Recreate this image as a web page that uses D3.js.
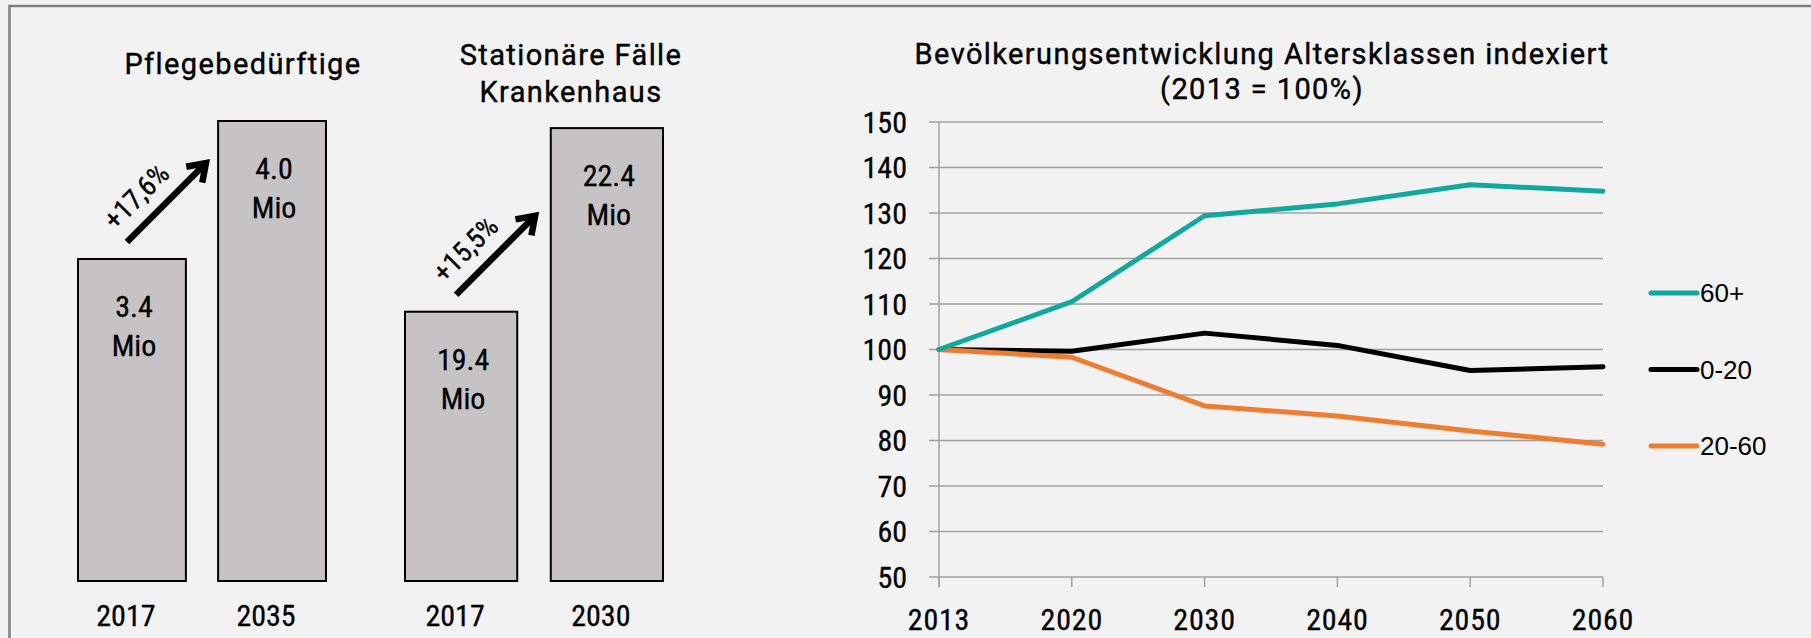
<!DOCTYPE html>
<html>
<head>
<meta charset="utf-8">
<script src="https://cdn.jsdelivr.net/npm/d3@7"></script>
<style>
  body { margin: 0; background: #f2f2f2; }
  svg { display: block; }
  .cond { font-family: "Roboto Condensed", "Liberation Sans", sans-serif; font-weight: 400; fill: #000; stroke: #000; stroke-width: 0.3px; }
  .word { font-family: Roboto, "Liberation Sans", sans-serif; font-weight: 400; font-size: 29px; letter-spacing: 1.4px; fill: #000; stroke: #000; stroke-width: 0.4px; }
  .legend text { font-family: "Liberation Sans", Arial, sans-serif; font-size: 26px; fill: #000; }
</style>
</head>
<body>
<svg id="chart" width="1811" height="638"></svg>
<script>
/**
 * DATA
 * */
const careYears = ["2017", "2035"],
    careValues = [3.4, 4.0],
    careChange = "+17,6%";

const hospYears = ["2017", "2030"],
    hospValues = [19.4, 22.4],
    hospChange = "+15,5%";

const popYears = ["2013", "2020", "2030", "2040", "2050", "2060"],
    popTicks = [50, 60, 70, 80, 90, 100, 110, 120, 130, 140, 150];

const seriesNames = ["60+", "0-20", "20-60"],
    senior = [100, 110.5, 129.4, 132.0, 136.2, 134.8],
    youth = [100, 99.6, 103.6, 100.9, 95.4, 96.2],
    adult = [100, 98.3, 87.6, 85.4, 82.1, 79.2];

const colors = { "60+": "#13a89e", "0-20": "#000000", "20-60": "#ed7d31" };

/**
 * CONSTANTS
 * */
const width = 1811,
    height = 638,
    baseY = 581;

const svg = d3.select("#chart");

// outer frame (only top and left edges are visible)
svg.append("rect")
    .attr("x", 9.5).attr("y", 6)
    .attr("width", width + 20).attr("height", height + 20)
    .attr("fill", "none")
    .attr("stroke", "#7f7f7f")
    .attr("stroke-width", 2.5);

/**
 * BAR PANELS
 * */
function drawBars(opts) {
    const x = d3.scaleBand().domain(opts.years).range(opts.xRange).paddingInner(opts.pad);
    const y = d3.scaleLinear().domain(opts.yDomain).range([baseY, opts.yTop]);
    const data = opts.years.map((yr, i) => ({ yr, v: opts.values[i] }));
    const g = svg.append("g");

    g.selectAll("rect.bar")
        .data(data)
        .join("rect")
        .attr("class", "bar")
        .attr("x", d => x(d.yr))
        .attr("y", d => y(d.v))
        .attr("width", x.bandwidth())
        .attr("height", d => baseY - y(d.v))
        .attr("fill", "#c5c3c4")
        .attr("stroke", "#000")
        .attr("stroke-width", 2);

    // value labels in two lines
    const lab = g.selectAll("text.val")
        .data(data)
        .join("text")
        .attr("class", "val cond")
        .attr("text-anchor", "middle")
        .style("font-size", "30px")
        .attr("x", d => x(d.yr) + x.bandwidth() / 2 + 2)
        .attr("y", d => y(d.v) + 58);
    lab.append("tspan").text(d => d3.format(".1f")(d.v));
    lab.append("tspan")
        .attr("x", d => x(d.yr) + x.bandwidth() / 2 + 2)
        .attr("dy", 39)
        .text("Mio");

    // category labels under bars
    g.selectAll("text.cat")
        .data(data)
        .join("text")
        .attr("class", "cat cond")
        .attr("text-anchor", "middle")
        .style("font-size", "30px")
        .attr("x", d => x(d.yr) + x.bandwidth() / 2 - 6)
        .attr("y", 626)
        .text(d => d.yr);

    // panel title
    const t = g.append("text")
        .attr("class", "word")
        .attr("text-anchor", "middle")
        .attr("x", opts.titleX)
        .attr("y", opts.titleY);
    opts.title.forEach((line, i) => {
        t.append("tspan").attr("x", opts.titleX).attr("dy", i ? 37 : 0).text(line);
    });

    // growth arrow from the first bar toward the second
    const first = data[0];
    const x0 = x(first.yr) + x.bandwidth() / 2 - 5,
        y0 = y(first.v) - 17,
        len = 79,
        x1 = x0 + len,
        y1 = y0 - len;
    g.append("line")
        .attr("x1", x0).attr("y1", y0)
        .attr("x2", x1 - 3).attr("y2", y1 + 3)
        .attr("stroke", "#000")
        .attr("stroke-width", 6.5);
    const head = 20;
    const a = Math.atan2(y0 - y1, x0 - x1);
    const p1 = [x1 + head * Math.cos(a + 0.6), y1 + head * Math.sin(a + 0.6)];
    const p2 = [x1 + head * Math.cos(a - 0.6), y1 + head * Math.sin(a - 0.6)];
    g.append("path")
        .attr("d", `M${p1}L${x1},${y1}L${p2}`)
        .attr("fill", "none")
        .attr("stroke", "#000")
        .attr("stroke-width", 6.5)
        .attr("stroke-linejoin", "miter");
    const mx = (x0 + x1) / 2 - 30,
        my = (y0 + y1) / 2 - 6;
    g.append("text")
        .attr("class", "cond")
        .attr("text-anchor", "middle")
        .attr("dominant-baseline", "central")
        .style("font-size", "28px")
        .attr("transform", `translate(${mx},${my}) rotate(-45)`)
        .text(opts.change);
}

drawBars({
    years: careYears, values: careValues, change: careChange,
    xRange: [78, 326], pad: 0.23, yDomain: [2, 4], yTop: 121,
    title: ["Pflegebedürftige"], titleX: 243, titleY: 74
});

drawBars({
    years: hospYears, values: hospValues, change: hospChange,
    xRange: [405, 663], pad: 0.23, yDomain: [15, 22.5], yTop: 122,
    title: ["Stationäre Fälle", "Krankenhaus"], titleX: 571, titleY: 65
});

/**
 * LINE CHART
 * */
const x = d3.scalePoint().domain(popYears).range([939, 1603]);
const y = d3.scaleLinear().domain([50, 150]).range([577, 122]);

const lc = svg.append("g");

// horizontal gridlines
lc.selectAll("line.grid")
    .data(popTicks)
    .join("line")
    .attr("class", "grid")
    .attr("x1", 929).attr("x2", 1603)
    .attr("y1", d => y(d)).attr("y2", d => y(d))
    .attr("stroke", "#a0a0a0")
    .attr("stroke-width", 1.5);

// y axis line
lc.append("line")
    .attr("x1", 939).attr("x2", 939)
    .attr("y1", y(150)).attr("y2", y(50) + 10)
    .attr("stroke", "#a0a0a0")
    .attr("stroke-width", 1.5);

// x tick marks
lc.selectAll("line.xtick")
    .data(popYears)
    .join("line")
    .attr("class", "xtick")
    .attr("x1", d => x(d)).attr("x2", d => x(d))
    .attr("y1", y(50)).attr("y2", y(50) + 10)
    .attr("stroke", "#a0a0a0")
    .attr("stroke-width", 1.5);

// y tick labels
lc.selectAll("text.ylab")
    .data(popTicks)
    .join("text")
    .attr("class", "ylab cond")
    .attr("text-anchor", "end")
    .attr("dominant-baseline", "central")
    .style("font-size", "30px")
    .attr("x", 907)
    .attr("y", d => y(d))
    .text(d => d);

// x tick labels
lc.selectAll("text.xlab")
    .data(popYears)
    .join("text")
    .attr("class", "xlab cond")
    .attr("text-anchor", "middle")
    .style("font-size", "30px")
    .style("letter-spacing", "0.8px")
    .attr("x", d => x(d))
    .attr("y", 630)
    .text(d => d);

// title
const title = lc.append("text")
    .attr("class", "word")
    .attr("text-anchor", "middle");
title.append("tspan").attr("x", 1262).attr("y", 64).text("Bevölkerungsentwicklung Altersklassen indexiert");
title.append("tspan").attr("x", 1262).attr("y", 99).text("(2013 = 100%)");

// series lines
const series = [
    { name: "0-20", values: youth },
    { name: "20-60", values: adult },
    { name: "60+", values: senior },
];
const line = d3.line()
    .x((d, i) => x(popYears[i]))
    .y(d => y(d));

lc.selectAll("path.series")
    .data(series)
    .join("path")
    .attr("class", "series")
    .attr("d", d => line(d.values))
    .attr("fill", "none")
    .attr("stroke", d => colors[d.name])
    .attr("stroke-width", 5)
    .attr("stroke-linejoin", "round")
    .attr("stroke-linecap", "round");

// legend
const legendY = d3.scalePoint().domain(seriesNames).range([293, 446]);
const leg = svg.append("g").attr("class", "legend")
    .selectAll("g")
    .data(seriesNames)
    .join("g")
    .attr("transform", d => `translate(1651,${legendY(d)})`);
leg.append("line")
    .attr("x1", 0).attr("x2", 46)
    .attr("stroke", d => colors[d])
    .attr("stroke-width", 5)
    .attr("stroke-linecap", "round");
leg.append("text")
    .attr("x", 49)
    .attr("dominant-baseline", "central")
    .text(d => d);
</script>
</body>
</html>
